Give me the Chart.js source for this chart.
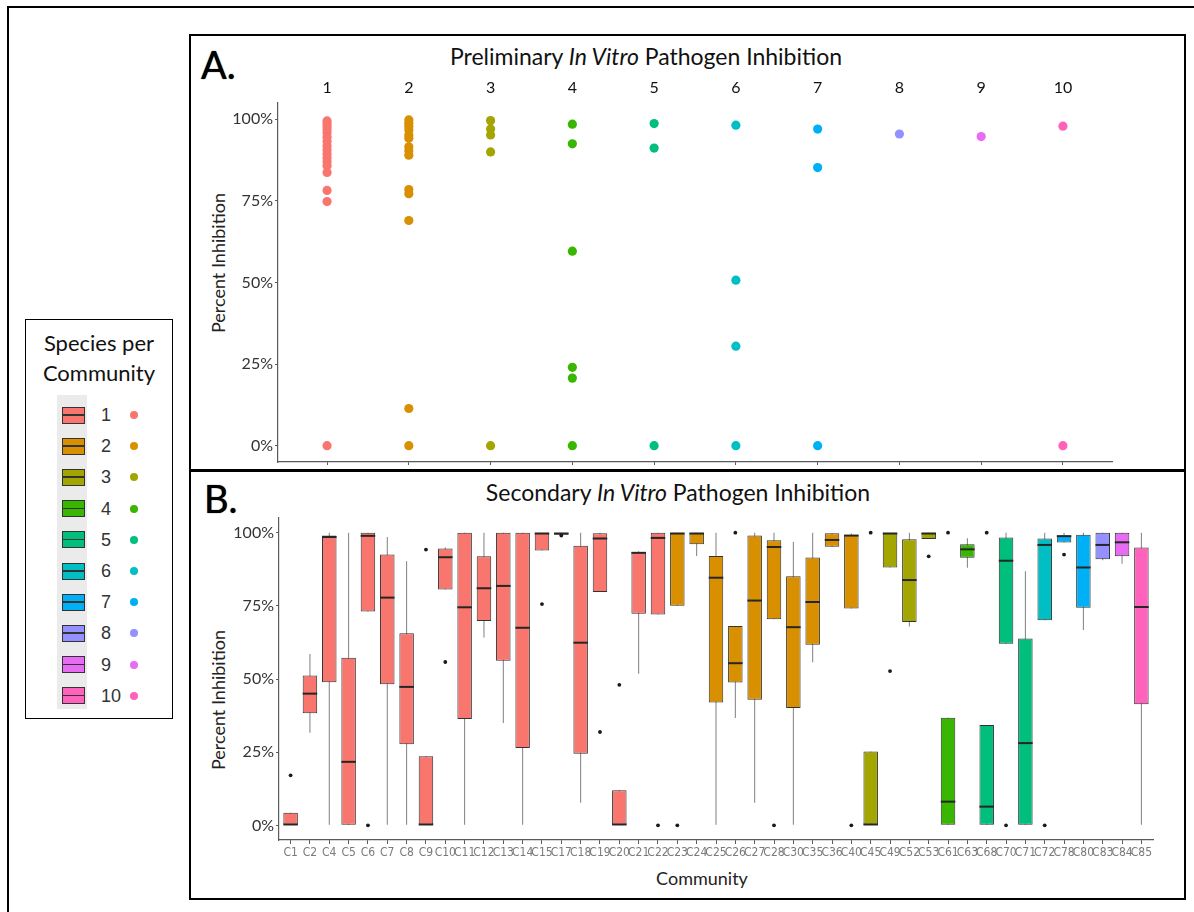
<!DOCTYPE html>
<html>
<head>
<meta charset="utf-8">
<title>In Vitro Pathogen Inhibition</title>
<script src="https://cdn.jsdelivr.net/npm/chart.js@4.4.1/dist/chart.umd.min.js"></script>
<style>
  body { margin: 0; background: #fff; }
  #page { position: relative; width: 1194px; height: 912px; overflow: hidden; background: #fff; font-family: Lato, 'Open Sans', sans-serif; color: #111; }
  .frame { position: absolute; left: 7px; top: 6px; width: 1200px; height: 920px; border-top: 2px solid #000; border-left: 2px solid #000; }
  .panel { position: absolute; border: 2px solid #000; box-sizing: border-box; }
  #panelA { left: 189px; top: 34px; width: 997px; height: 438px; }
  #panelB { left: 189px; top: 469px; width: 997px; height: 431px; }
  .wrap { position: absolute; }
  #wrapA { left: 190px; top: 70px; width: 994px; height: 404px; }
  #wrapB { left: 190px; top: 505px; width: 994px; height: 359px; }
  .txt { position: absolute; white-space: nowrap; }
  .ptitle { font-size: 23px; text-align: center; width: 500px; line-height: 26px; color: #111; }
  .tag { font-size: 38px; line-height: 38px; color: #000; text-shadow: 0 0 1px #000; }
  .ytitle { font-size: 18px; line-height: 22px; width: 200px; text-align: center; transform: rotate(-90deg); color: #222; }
  #legend { position: absolute; left: 25px; top: 319px; width: 148px; height: 400px; border: 1.5px solid #000; box-sizing: border-box; }
  #legend .head { position: absolute; left: 0; width: 100%; text-align: center; font-size: 22px; line-height: 28px; color: #111; }
  #legend .band { position: absolute; left: 31px; top: 75px; width: 30px; height: 314px; background: #ebebeb; }
  .key { position: absolute; left: 36px; width: 23px; height: 17px; border: 1px solid #333; box-sizing: border-box; }
  .key::before { content: ''; position: absolute; left: 10px; top: -6px; width: 1px; height: 27px; background: #333; z-index: -1; }
  .key::after { content: ''; position: absolute; left: 0; right: 0; top: 6.5px; height: 1.5px; background: #333; }
  .klabel { position: absolute; left: 75px; font-family: 'Liberation Sans', Arial, sans-serif; font-size: 18px; line-height: 20px; color: #333; }
  .kdot { position: absolute; left: 104px; width: 8px; height: 8px; border-radius: 50%; }
</style>
</head>
<body>
<div id="page">
  <div class="frame"></div>
  <div class="panel" id="panelA"></div>
  <div class="panel" id="panelB"></div>

  <div class="txt tag" style="left:201px; top:45px;">A.</div>
  <div class="txt tag" style="left:204px; top:479px;">B.</div>
  <div class="txt ptitle" style="left:396px; top:43px;">Preliminary <i>In Vitro</i> Pathogen Inhibition</div>
  <div class="txt ptitle" style="left:428px; top:479px;">Secondary <i>In Vitro</i> Pathogen Inhibition</div>
  <div class="txt ytitle" style="left:118px; top:252px;">Percent Inhibition</div>
  <div class="txt ytitle" style="left:118px; top:689px;">Percent Inhibition</div>
  <div class="txt" style="left:602px; top:867px; width:200px; text-align:center; font-size:18px; line-height:22px; color:#222;">Community</div>

  <div class="wrap" id="wrapA"><canvas id="chartA" width="994" height="404"></canvas></div>
  <div class="wrap" id="wrapB"><canvas id="chartB" width="994" height="359"></canvas></div>

  <div id="legend">
    <div class="head" style="top:9px;">Species per</div>
    <div class="head" style="top:39px;">Community</div>
    <div class="band"></div>
  </div>
</div>

<script>
// species-per-community levels and their colours
const speciesLevels = ['1', '2', '3', '4', '5', '6', '7', '8', '9', '10'];
const speciesColours = ['#F8766D', '#D89000', '#A3A500', '#39B600', '#00BF7D',
                        '#00BFC4', '#00B0F6', '#9590FF', '#E76BF3', '#FF62BC'];
const percentTicks = [0, 25, 50, 75, 100];

// preliminary screen: inhibition (%) of each community, grouped by species count
const prelim1 = [99.5, 98.7, 97.8, 96.8, 95.8, 94.5, 93.2, 91.8, 90.6, 89.4, 88.2, 87.0, 85.8, 83.7, 78.2, 74.8, 0];
const prelim2 = [99.8, 98.8, 97.8, 96.7, 95.2, 94.2, 91.6, 90.4, 89.0, 78.5, 77.2, 69.0, 11.4, 0];
const prelim3 = [99.6, 97.0, 95.2, 90.0, 0];
const prelim4 = [98.5, 92.5, 59.6, 24.0, 20.7, 0];
const prelim5 = [98.7, 91.2, 0];
const prelim6 = [98.2, 50.7, 30.5, 0];
const prelim7 = [97.0, 85.2, 0];
const prelim8 = [95.5];
const prelim9 = [94.7];
const prelim10 = [97.9, 0];
const prelimSets = [prelim1, prelim2, prelim3, prelim4, prelim5, prelim6, prelim7, prelim8, prelim9, prelim10];

// secondary screen: box plot summary per community
const communities = ['C1', 'C2', 'C4', 'C5', 'C6', 'C7', 'C8', 'C9', 'C10', 'C11',
                     'C12', 'C13', 'C14', 'C15', 'C17', 'C18', 'C19', 'C20', 'C21', 'C22',
                     'C23', 'C24', 'C25', 'C26', 'C27', 'C28', 'C30', 'C35', 'C36', 'C40',
                     'C45', 'C49', 'C52', 'C53', 'C61', 'C63', 'C68', 'C70', 'C71', 'C72',
                     'C78', 'C80', 'C83', 'C84', 'C85'];
const communitySpecies = [1, 1, 1, 1, 1, 1, 1, 1, 1, 1,
                          1, 1, 1, 1, 1, 1, 1, 1, 1, 1,
                          2, 2, 2, 2, 2, 2, 2, 2, 2, 2,
                          3, 3, 3, 3, 4, 4, 5, 5, 5, 6,
                          7, 7, 8, 9, 10];
const whiskerLow = [0, 31.6, 0, 0, 73.1, 0, 0, 0, 80.6, 0,
                    64.2, 35, 0, 93.9, 99.3, 7.7, 79.7, 0, 51.8, 72,
                    75, 92, 0, 36.7, 7.7, 70.4, 0, 55.7, 95.2, 74.1,
                    0, 88.1, 67.9, 97.8, 0, 88, 0, 62, 0, 70.1,
                    96.6, 66.7, 90.6, 89.4, 0];
const boxLow = [0, 38.3, 48.9, 0, 73.1, 48.2, 27.7, 0, 80.6, 36.3,
                69.8, 56.2, 26.4, 93.9, 99.3, 24.5, 79.7, 0, 72.3, 72,
                75, 96, 42, 48.8, 42.9, 70.4, 40.1, 61.7, 95.2, 74.1,
                0, 88.1, 69.5, 97.8, 0, 91.4, 0, 62, 0, 70.1,
                96.6, 74.3, 90.9, 91.9, 41.4];
const boxMedian = [0.3, 45, 98.5, 21.7, 98.9, 77.8, 47.3, 0.3, 91.6, 74.5,
                   81, 81.8, 67.5, 99.7, 99.7, 62.4, 98, 0.3, 93.1, 98.2,
                   99.7, 99.7, 84.6, 55.4, 76.8, 95.1, 67.7, 76.3, 97.5, 99,
                   0.3, 99.7, 83.8, 99.7, 8.1, 94.3, 6.4, 90.4, 28.1, 95.8,
                   98.8, 88.1, 95.8, 96.7, 74.6];
const boxHigh = [4.3, 51.2, 99, 57.3, 100, 92.5, 65.6, 23.6, 94.6, 100,
                 91.9, 100, 100, 100, 100, 95.5, 99.8, 12, 93.4, 100,
                 100, 100, 92, 68.1, 99, 97.4, 85.1, 91.5, 99.8, 99.2,
                 25.2, 100, 97.7, 100, 36.8, 96, 34.3, 98.3, 63.8, 98,
                 99, 99.3, 100, 100, 94.9];
const whiskerHigh = [4.3, 58.5, 100, 100, 100, 98.5, 90.2, 23.6, 94.9, 100,
                     100, 100, 100, 100, 100, 100, 100, 12, 93.6, 100,
                     100, 100, 100, 68.1, 100, 100, 96.8, 100, 99.8, 99.7,
                     25.2, 100, 100, 100, 36.8, 98.1, 34.3, 100, 86.8, 100,
                     100, 100, 100, 100, 100];
const outlierCommunity = ['C1', 'C6', 'C9', 'C10', 'C15', 'C17', 'C19', 'C20', 'C22', 'C23', 'C26',
                          'C28', 'C40', 'C45', 'C49', 'C53', 'C61', 'C68', 'C70', 'C72', 'C78'];
const outlierValue = [17.1, 0, 94.2, 55.8, 75.6, 99.0, 31.9, 48, 0, 0, 100,
                      0, 0, 100, 52.7, 91.9, 100, 100, 0, 0, 92.5];

Chart.defaults.font.family = "Lato, 'Open Sans', sans-serif";
Chart.defaults.animation = false;
Chart.defaults.events = [];
Chart.defaults.plugins.legend.display = false;
Chart.defaults.plugins.tooltip.enabled = false;

const AXIS = '#5a5a5a';

function percentAxis(width) {
    return {
        type: 'linear',
        min: -5,
        max: 105,
        afterBuildTicks: s => { s.ticks = percentTicks.map(v => ({ value: v })); },
        afterFit: s => { s.width = width; },
        border: { display: true, color: AXIS, width: 1.2 },
        grid: { drawOnChartArea: false, drawTicks: true, tickLength: 3, color: AXIS },
        ticks: { color: '#333', padding: 2, font: { size: 16 }, callback: v => v + '%' }
    };
}

/* ---------- A: preliminary scatter ---------- */
const groupPos = speciesLevels.map((_, i) => i + 1);

new Chart(document.getElementById('chartA'), {
    type: 'scatter',
    data: {
        datasets: prelimSets.map((vals, i) => ({
            data: vals.map(v => ({ x: groupPos[i], y: v })),
            backgroundColor: speciesColours[i],
            borderWidth: 0,
            pointRadius: 4.6
        }))
    },
    options: {
        responsive: false,
        layout: { padding: { right: 72 } },
        scales: {
            x: {
                type: 'linear',
                position: 'bottom',
                min: 0.4,
                max: 10.6,
                offset: false,
                afterBuildTicks: s => { s.ticks = groupPos.map(v => ({ value: v })); },
                afterFit: s => { s.height = 12; },
                border: { display: true, color: AXIS, width: 1.2 },
                grid: { offset: false, drawOnChartArea: false, drawTicks: true, tickLength: 3, color: AXIS },
                ticks: { display: false }
            },
            xTop: {
                type: 'linear',
                position: 'top',
                min: 0.4,
                max: 10.6,
                offset: false,
                afterBuildTicks: s => { s.ticks = groupPos.map(v => ({ value: v })); },
                afterFit: s => { s.height = 33; },
                border: { display: false },
                grid: { display: false, drawTicks: false },
                ticks: { color: '#111', padding: 6, font: { size: 16 }, callback: (v, i) => speciesLevels[i] }
            },
            y: percentAxis(88)
        }
    }
});

/* ---------- B: secondary box plots ---------- */
const commPos = communities.map((_, i) => i + 1);
const boxColours = communitySpecies.map(n => speciesColours[n - 1]);
const halfBox = ctx => {
    const s = ctx.chart.scales.x;
    return 0.375 * Math.abs(s.getPixelForValue(1) - s.getPixelForValue(0));
};

new Chart(document.getElementById('chartB'), {
    type: 'bar',
    data: {
        datasets: [
            {
                // whiskers
                data: commPos.map((x, i) => ({ x, y: [whiskerLow[i], whiskerHigh[i]] })),
                backgroundColor: '#7f7f7f',
                borderWidth: 0,
                grouped: false,
                maxBarThickness: 1,
                order: 3
            },
            {
                // boxes (lower to upper quartile)
                data: commPos.map((x, i) => ({ x, y: [boxLow[i], boxHigh[i]] })),
                backgroundColor: boxColours,
                borderColor: '#333',
                borderWidth: 1,
                borderSkipped: false,
                grouped: false,
                categoryPercentage: 1,
                barPercentage: 0.75,
                order: 2
            },
            {
                // medians
                type: 'line',
                showLine: false,
                data: commPos.map((x, i) => ({ x, y: boxMedian[i] })),
                pointStyle: 'line',
                pointRadius: halfBox,
                pointBorderWidth: 2,
                pointBorderColor: '#262626',
                order: 1
            },
            {
                // outliers
                type: 'line',
                showLine: false,
                data: outlierCommunity.map((c, i) => ({ x: communities.indexOf(c) + 1, y: outlierValue[i] })),
                pointRadius: 1.9,
                pointBorderWidth: 0,
                pointBackgroundColor: '#1a1a1a',
                order: 0
            }
        ]
    },
    options: {
        responsive: false,
        layout: { padding: { top: 13, right: 31 } },
        scales: {
            x: {
                type: 'linear',
                min: 0.4,
                max: communities.length + 0.6,
                offset: false,
                afterBuildTicks: s => { s.ticks = commPos.map(v => ({ value: v })); },
                afterFit: s => { s.height = 24; },
                border: { display: true, color: AXIS, width: 1.2 },
                grid: { offset: false, drawOnChartArea: false, drawTicks: true, tickLength: 4, color: AXIS },
                ticks: {
                    color: '#7a7a7a',
                    padding: 2,
                    autoSkip: false,
                    maxRotation: 0,
                    minRotation: 0,
                    font: { family: "'Liberation Sans Narrow', 'DejaVu Sans Condensed', 'Liberation Sans', sans-serif", size: 12 },
                    callback: (v, i) => communities[i]
                }
            },
            y: percentAxis(89)
        }
    }
});

/* ---------- legend ---------- */
const legend = document.getElementById('legend');
speciesLevels.forEach((lvl, i) => {
    const cy = 95 + i * 31.2;
    const key = document.createElement('div');
    key.className = 'key';
    key.style.top = (cy - 8.5) + 'px';
    key.style.background = speciesColours[i];
    legend.appendChild(key);

    const lab = document.createElement('div');
    lab.className = 'klabel';
    lab.style.top = (cy - 10) + 'px';
    lab.textContent = lvl;
    legend.appendChild(lab);

    const dot = document.createElement('div');
    dot.className = 'kdot';
    dot.style.top = (cy - 4) + 'px';
    dot.style.background = speciesColours[i];
    legend.appendChild(dot);
});
</script>
</body>
</html>
